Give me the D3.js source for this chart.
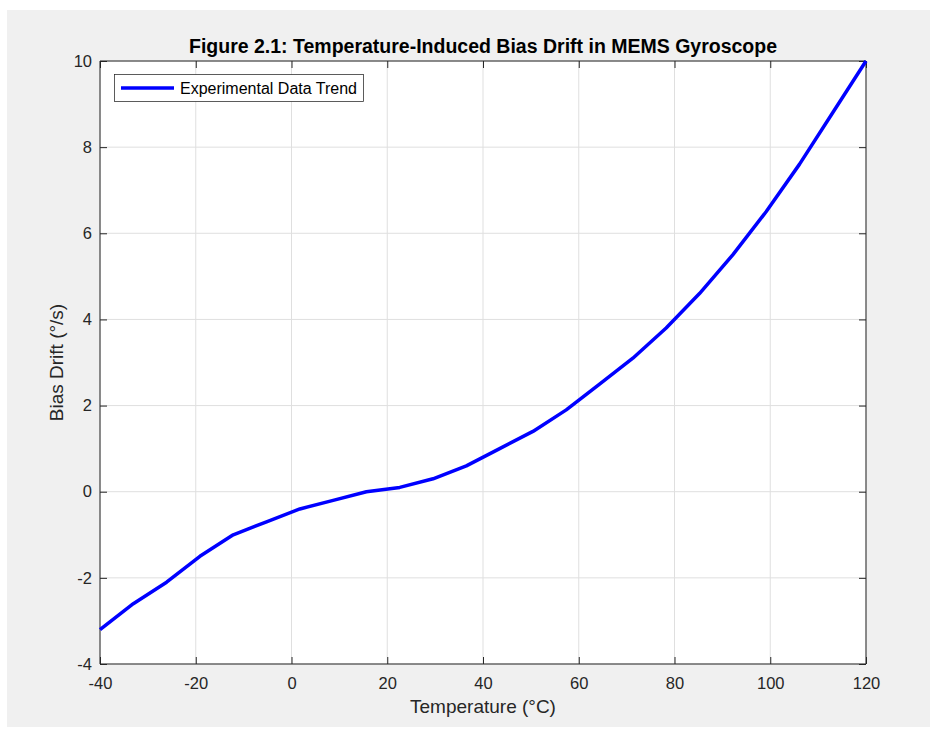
<!DOCTYPE html>
<html><head><meta charset="utf-8">
<script src="https://cdn.jsdelivr.net/npm/d3@7"></script>
<style>html,body{margin:0;padding:0;background:#fff;}svg{display:block;font-family:"Liberation Sans",Arial,Helvetica,sans-serif;}</style>
</head><body>
<script>
const temperature = [-40,-33.04,-26.09,-19.13,-12.17,-5.22,1.74,8.70,15.65,22.61,29.57,36.52,43.48,50.43,57.39,64.35,71.30,78.26,85.22,92.17,99.13,106.09,113.04,120];
const biasDrift = [-3.2,-2.6,-2.1,-1.5,-1.0,-0.7,-0.4,-0.2,0.0,0.1,0.3,0.6,1.0,1.4,1.9,2.5,3.1,3.8,4.6,5.5,6.5,7.6,8.8,10.0];
const xTicks = [-40,-20,0,20,40,60,80,100,120];
const yTicks = [-4,-2,0,2,4,6,8,10];
const seriesName = "Experimental Data Trend";
const titleText = "Figure 2.1: Temperature-Induced Bias Drift in MEMS Gyroscope";
const xLabel = "Temperature (°C)";
const yLabel = "Bias Drift (°/s)";

const W = 930, H = 731;
const L = 100, R = 866, T = 61, B = 664;
const svg = d3.select("body").append("svg").attr("width", W).attr("height", H);
svg.append("rect").attr("x", 7).attr("y", 10).attr("width", W - 7).attr("height", 717).attr("fill", "#f0f0f0");

const x = d3.scaleLinear().domain([-40, 120]).range([L, R]);
const y = d3.scaleLinear().domain([-4, 10]).range([B, T]);

svg.append("rect").attr("x", L).attr("y", T).attr("width", R - L).attr("height", B - T).attr("fill", "#fff");

// grid
const g = svg.append("g");
g.selectAll(".gx").data(xTicks).join("line")
  .attr("x1", d => x(d)).attr("x2", d => x(d)).attr("y1", T).attr("y2", B)
  .attr("stroke", "#dfdfdf").attr("stroke-width", 1);
g.selectAll(".gy").data(yTicks).join("line")
  .attr("y1", d => y(d)).attr("y2", d => y(d)).attr("x1", L).attr("x2", R)
  .attr("stroke", "#dfdfdf").attr("stroke-width", 1);

const axCol = "#262626";
const tl = 7;
const fmt = d => String(d);
const xa = svg.append("g").attr("transform", `translate(0,${B})`)
  .call(d3.axisBottom(x).tickValues(xTicks).tickSize(-tl).tickPadding(13).tickFormat(fmt));
const ya = svg.append("g").attr("transform", `translate(${L},0)`)
  .call(d3.axisLeft(y).tickValues(yTicks).tickSize(-tl).tickPadding(8).tickFormat(fmt));
const xt = svg.append("g").attr("transform", `translate(0,${T})`)
  .call(d3.axisTop(x).tickValues(xTicks).tickSize(-tl).tickFormat(""));
const yr = svg.append("g").attr("transform", `translate(${R},0)`)
  .call(d3.axisRight(y).tickValues(yTicks).tickSize(-tl).tickFormat(""));
[xa, ya, xt, yr].forEach(a => {
  a.select(".domain").attr("stroke", axCol).attr("stroke-width", 1);
  a.selectAll(".tick line").attr("stroke", axCol).attr("stroke-width", 1);
  a.selectAll(".tick text").attr("fill", axCol).style("font-size", "16.5px").style("font-family", '"Liberation Sans",Arial,sans-serif');
});
xa.selectAll(".domain").attr("d", `M${L},0H${R}`);
xt.selectAll(".domain").attr("d", `M${L},0H${R}`);
ya.selectAll(".domain").attr("d", `M0,${T}V${B}`);
yr.selectAll(".domain").attr("d", `M0,${T}V${B}`);

// line
const line = d3.line().x((d, i) => x(temperature[i])).y(d => y(d));
svg.append("path").datum(biasDrift).attr("d", line)
  .attr("fill", "none").attr("stroke", "#0000ff").attr("stroke-width", 3.5).attr("stroke-linejoin", "round");

// title
svg.append("text").attr("x", (L + R) / 2).attr("y", 53).attr("text-anchor", "middle")
  .style("font-size", "19.5px").style("font-weight", "bold").attr("fill", "#000").text(titleText);
// axis labels
svg.append("text").attr("x", (L + R) / 2).attr("y", 713).attr("text-anchor", "middle")
  .style("font-size", "19px").attr("fill", axCol).text(xLabel);
svg.append("text").attr("transform", `translate(63,${(T + B) / 2}) rotate(-90)`).attr("text-anchor", "middle")
  .style("font-size", "19px").attr("fill", axCol).text(yLabel);

// legend
const lg = svg.append("g");
lg.append("rect").attr("x", 114.5).attr("y", 74.5).attr("width", 249).attr("height", 27)
  .attr("fill", "#fff").attr("stroke", axCol).attr("stroke-width", 0.75);
lg.append("line").attr("x1", 121).attr("x2", 174).attr("y1", 88).attr("y2", 88)
  .attr("stroke", "#0000ff").attr("stroke-width", 3.5);
lg.append("text").attr("x", 180).attr("y", 93.5).style("font-size", "16px").attr("fill", "#000").text(seriesName);
</script>
</body></html>
